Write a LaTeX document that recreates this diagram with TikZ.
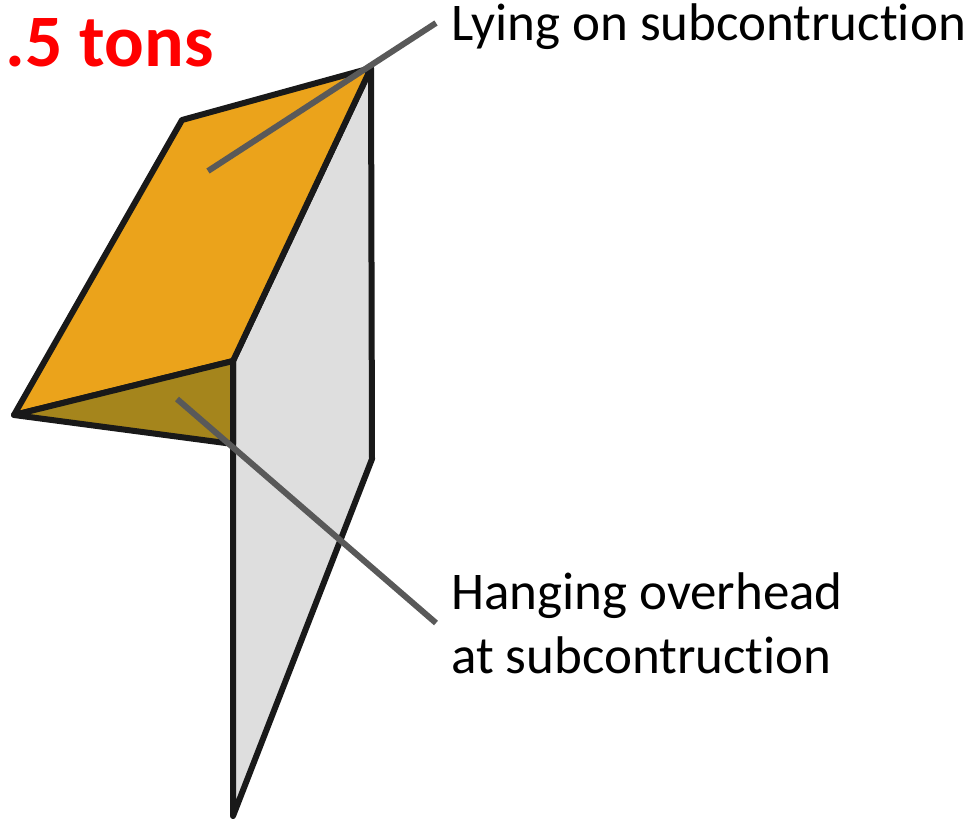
\documentclass[tikz,border=0pt]{standalone}
\usepackage{fontspec}
\setmainfont[Ligatures=NoCommon]{Carlito}
\usepackage{xcolor}
\definecolor{roofcol}{HTML}{EBA31B}
\definecolor{shadecol}{HTML}{A5851C}
\definecolor{wallcol}{HTML}{DEDEDE}
\definecolor{linecol}{HTML}{595959}
\begin{document}
\begin{tikzpicture}[x=1pt,y=-1pt,
        face/.style={draw=black!90, line width=6pt, line join=round},
        leader/.style={draw=linecol, line width=6pt},
        label/.style={anchor=west, font=\fontsize{53}{64}\selectfont, align=left, inner sep=0pt}
    ]
    \useasboundingbox (0,0) rectangle (975,822);

    % Flaeche
    \draw[face, fill=wallcol] (233,361) -- (371,68) -- (372,459) -- (233,816) -- cycle;
    \draw[face, fill=roofcol] (182,120) -- (371,68) -- (233,361) -- (14,415) -- cycle;
    \draw[face, fill=shadecol] (14,415) -- (233,361) -- (233,444) -- cycle;

    % Texte
    \node[label] (lying) at (451,27) {Lying on subcontruction};
    \node[label] (hanging) at (451,623) {Hanging overhead\\at subcontruction};
    \node[anchor=east, inner sep=0pt, text=red, font=\fontsize{74}{80}\selectfont\bfseries] (tons) at (214,43) {.5 tons};

    % Linien
    \coordinate (roofpt) at (208,171);
    \coordinate (shadept) at (177,399);
    \draw[leader] (roofpt) -- (436,23);
    \draw[leader] (shadept) -- (436,623);
\end{tikzpicture}
\end{document}
